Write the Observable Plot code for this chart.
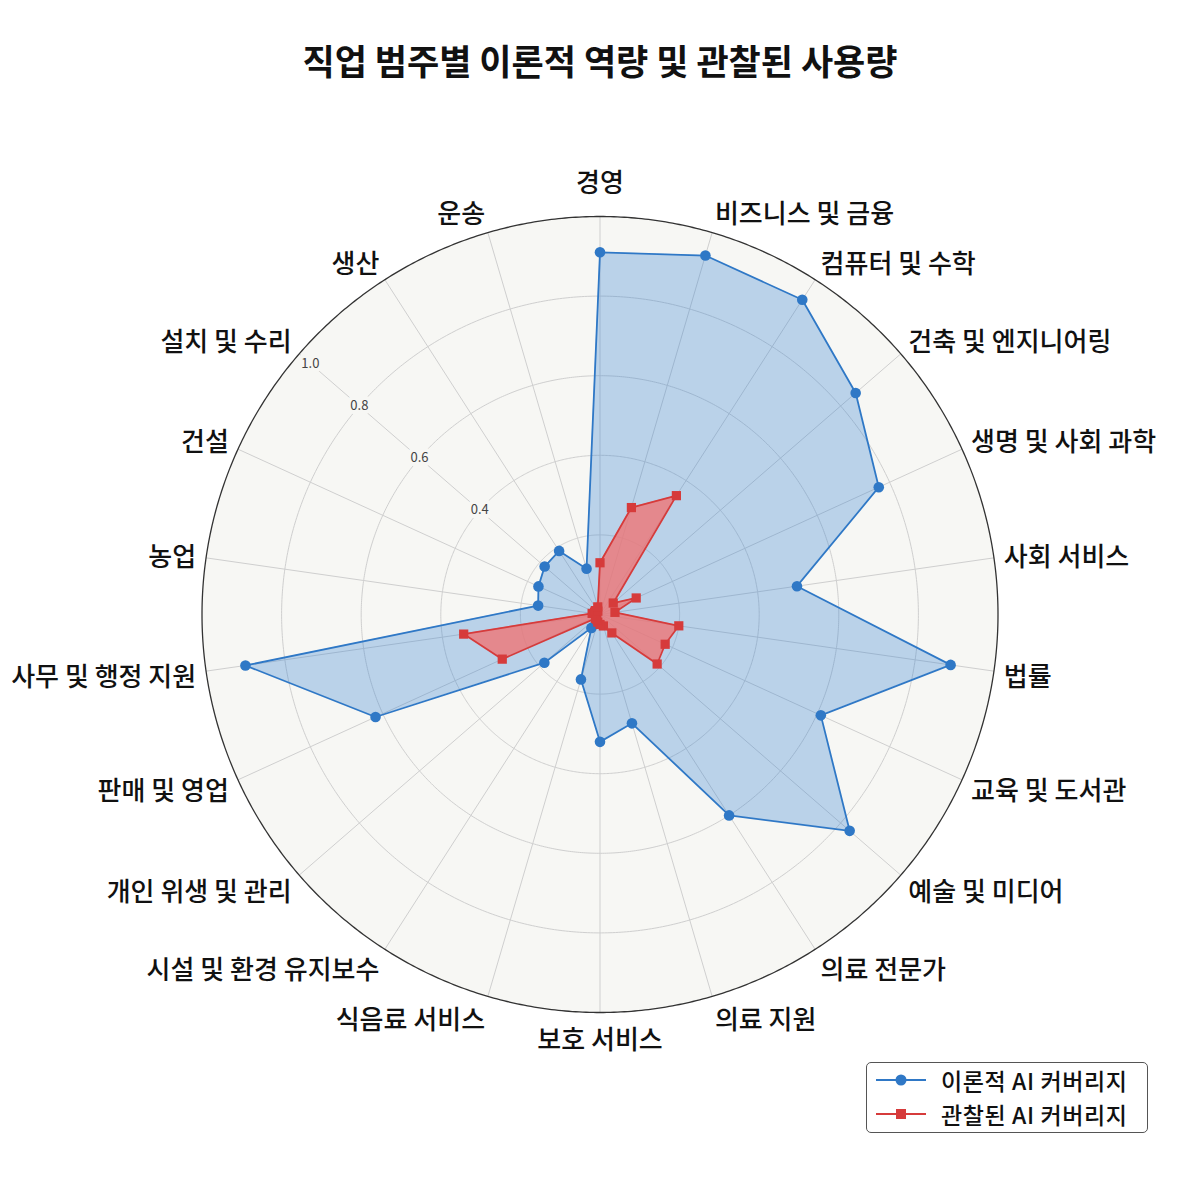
<!DOCTYPE html>
<html>
<head>
<meta charset="utf-8">
<script src="https://cdn.jsdelivr.net/npm/d3@7"></script>
<script src="https://cdn.jsdelivr.net/npm/@observablehq/plot@0.6"></script>
<style>
  body { margin: 0; background: #fff; width: 1200px; height: 1200px; position: relative;
         font-family: "Noto Sans CJK KR", "Noto Sans", sans-serif; }
  #title { position: absolute; left: 0; top: 37px; width: 1200px; text-align: center;
           font-size: 35px; font-weight: 700; line-height: 46px; color: #111; }
  #chart { position: absolute; left: 0; top: 100px; }
  #legend { position: absolute; left: 866px; top: 1062px; width: 282px; height: 71px;
            box-sizing: border-box; border: 1px solid #555; border-radius: 5px; background: #fff; }
  .row { position: absolute; left: 0; height: 30px; display: flex; align-items: center; }
  .row svg { margin-left: 9px; }
  .row span { margin-left: 15px; font-size: 23px; font-weight: 500; color: #111; display: inline-block;
              height: 30px; line-height: 30px; letter-spacing: 0.6px; white-space: nowrap; }
</style>
</head>
<body>
<div id="title"></div>
<div id="chart"></div>
<div id="legend"></div>
<script>
// ---- data ----
const titleText = "직업 범주별 이론적 역량 및 관찰된 사용량";
const categories = [
  "경영", "비즈니스 및 금융", "컴퓨터 및 수학", "건축 및 엔지니어링", "생명 및 사회 과학",
  "사회 서비스", "법률", "교육 및 도서관", "예술 및 미디어", "의료 전문가", "의료 지원",
  "보호 서비스", "식음료 서비스", "시설 및 환경 유지보수", "개인 위생 및 관리", "판매 및 영업",
  "사무 및 행정 지원", "농업", "건설", "설치 및 수리", "생산", "운송"
];
const theoretical = [0.91, 0.94, 0.94, 0.85, 0.77, 0.50, 0.89, 0.61, 0.83, 0.60, 0.285,
                     0.32, 0.17, 0.04, 0.185, 0.62, 0.90, 0.157, 0.17, 0.184, 0.19, 0.12];
const observed    = [0.13, 0.28, 0.355, 0.044, 0.10, 0.038, 0.20, 0.18, 0.19, 0.055, 0.03,
                     0.025, 0.02, 0.015, 0.015, 0.27, 0.346, 0.02, 0.015, 0.015, 0.01, 0.02];
const seriesNames = ["이론적 AI 커버리지", "관찰된 AI 커버리지"];
const gridLevels = [0.2, 0.4, 0.6, 0.8];
const tickValues = [0.4, 0.6, 0.8, 1.0];
const tickSpoke = "설치 및 수리";

// ---- styles ----
const colors = ["#2f78c6", "#d63b3b"];
const fills = ["#2f7fd0", "#ef7676"];
const fillOpacities = [0.3, 0.8];
const symbols = ["circle", "square"];
const bg = "#f7f7f4";

document.getElementById("title").textContent = titleText;

const n = categories.length;
const lon = (c) => 180 - categories.indexOf(c) * 360 / n;
const lat = (v) => 90 - v;
const disk = (r) => d3.geoCircle().center([0, 90]).radius(r).precision(0.5)();

const series = seriesNames.map((name, k) => ({
  name, color: colors[k], fill: fills[k], fillOpacity: fillOpacities[k], symbol: symbols[k],
  rows: categories.map((c, i) => ({category: c, value: (k === 0 ? theoretical : observed)[i]}))
}));

const labelR = 1.025;
const labelStyle = {fontSize: 26, fontWeight: 500, fill: "#111", text: d => d, lineAnchor: "middle"};

const marks = [
  Plot.geo([1], {geometry: disk, fill: bg, stroke: "none"}),
  Plot.geo(gridLevels, {geometry: disk, fill: "none", stroke: "#cfcfcf", strokeWidth: 1}),
  Plot.link(categories, {x1: lon, y1: lat(1), x2: 0, y2: 90, stroke: "#cfcfcf", strokeWidth: 1}),
  Plot.text(tickValues, {x: lon(tickSpoke), y: d => lat(Math.min(d, 0.963)), text: d => d.toFixed(1),
    fontSize: 13, fill: "#444", stroke: bg, strokeWidth: 8})
];
for (const s of series) {
  marks.push(Plot.area(s.rows, {x1: d => lon(d.category), y1: d => lat(d.value), x2: 0, y2: 90,
    fill: s.fill, fillOpacity: s.fillOpacity, curve: "linear-closed"}));
}
for (const s of series) {
  marks.push(Plot.line(s.rows, {x: d => lon(d.category), y: d => lat(d.value),
    stroke: s.color, strokeWidth: 1.8, curve: "linear-closed"}));
  marks.push(Plot.dot(s.rows, {x: d => lon(d.category), y: d => lat(d.value),
    r: s.symbol === "circle" ? 5.3 : 5.2, symbol: s.symbol, fill: s.color, stroke: "none"}));
}
marks.push(Plot.geo([1], {geometry: disk, fill: "none", stroke: "#333", strokeWidth: 1.3}));
// category labels: one text mark per label so its anchor follows its angle
categories.forEach((c, i) => {
  const a = i * 2 * Math.PI / n;
  const s = Math.sin(a), co = Math.cos(a);
  const anchor = s > 0.05 ? "start" : s < -0.05 ? "end" : "middle";
  let dy = 3 - 12 * co;
  if (Math.abs(s) <= 0.05) dy += co > 0 ? -14 : 3;
  marks.push(Plot.text([c], {x: lon, y: lat(labelR), textAnchor: anchor, dy, ...labelStyle}));
});

const chart = Plot.plot({
  width: 1200, height: 1100,
  marginLeft: 201, marginRight: 202, marginTop: 116, marginBottom: 188,
  projection: {type: "azimuthal-equidistant", rotate: [0, -90], domain: disk(1), clip: false},
  style: {background: "transparent", fontFamily: "'Noto Sans CJK KR', 'Noto Sans', sans-serif", overflow: "visible"},
  marks
});
document.getElementById("chart").appendChild(chart);

// legend
const legend = document.getElementById("legend");
series.forEach((s, k) => {
  const row = document.createElement("div");
  row.className = "row";
  row.style.top = (2 + k * 34) + "px";
  const marker = s.symbol === "circle"
    ? `<circle cx="25" cy="10" r="5.5" fill="${s.color}"/>`
    : `<rect x="20" y="5" width="10" height="10" fill="${s.color}"/>`;
  row.innerHTML = `<svg width="50" height="20"><line x1="0" x2="50" y1="10" y2="10" stroke="${s.color}" stroke-width="1.8"/>${marker}</svg><span>${s.name}</span>`;
  legend.appendChild(row);
});
</script>
</body>
</html>
